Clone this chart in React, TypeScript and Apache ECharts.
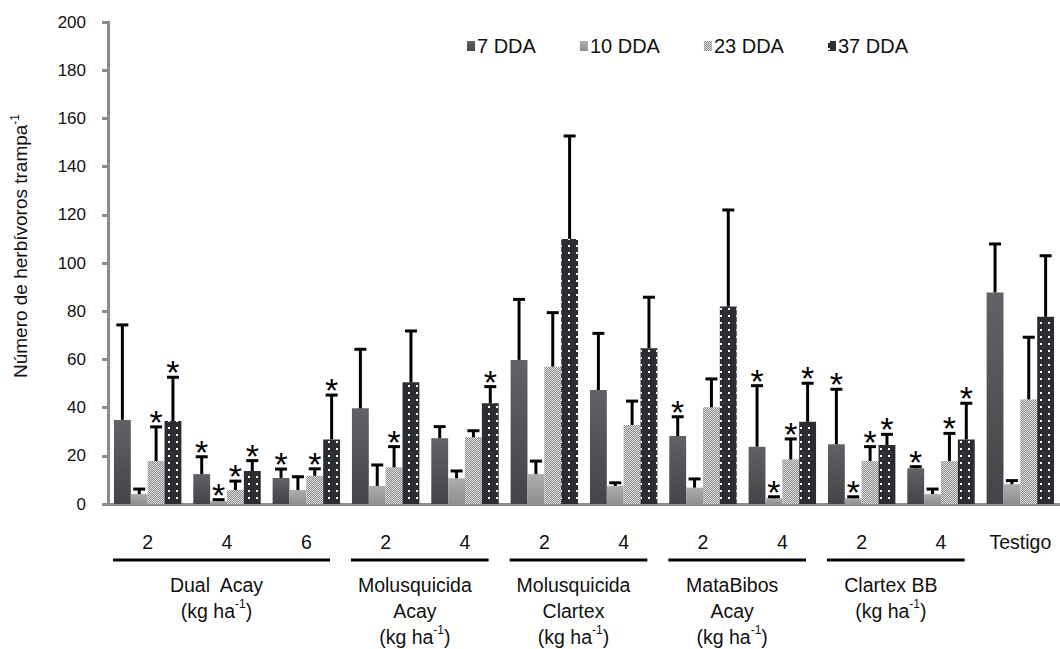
import React, { useEffect, useRef } from "react";
import * as echarts from "echarts";

const categories = [
  "Dual Acay 2", "Dual Acay 4", "Dual Acay 6",
  "Molusquicida Acay 2", "Molusquicida Acay 4",
  "Molusquicida Clartex 2", "Molusquicida Clartex 4",
  "MataBibos Acay 2", "MataBibos Acay 4",
  "Clartex BB 2", "Clartex BB 4", "Testigo",
];
const doseLabels = ["2", "4", "6", "2", "4", "2", "4", "2", "4", "2", "4", "Testigo"];
const seriesNames = ["7 DDA", "10 DDA", "23 DDA", "37 DDA"];

const mean7 = [34.9, 12.4, 10.8, 39.7, 27.3, 59.8, 47.3, 28.2, 23.8, 24.8, 14.8, 87.8];
const err7 = [74.3, 19.6, 14.5, 64.2, 32.1, 84.9, 70.8, 36.2, 49.1, 47.6, 15.5, 107.9];
const star7 = [0, 1, 1, 0, 0, 0, 0, 1, 1, 1, 1, 0];

const mean10 = [4.1, 1.2, 5.8, 7.5, 10.7, 12.4, 7.5, 6.8, 2.4, 2.4, 4.1, 8.2];
const err10 = [6.2, 1.8, 11.3, 16.2, 13.7, 17.8, 8.8, 10.4, 3.0, 3.0, 6.2, 9.7];
const star10 = [0, 1, 0, 0, 0, 0, 0, 0, 1, 1, 0, 0];

const mean23 = [17.8, 5.8, 11.7, 15.2, 27.7, 57.0, 32.8, 40.1, 18.5, 17.8, 17.8, 43.4];
const err23 = [32.0, 9.5, 14.6, 23.8, 30.4, 79.4, 42.7, 51.9, 27.0, 23.8, 29.3, 69.2];
const star23 = [1, 1, 1, 1, 0, 0, 0, 0, 1, 1, 1, 0];

const mean37 = [34.4, 13.7, 26.8, 50.5, 41.8, 110.0, 64.6, 81.9, 34.1, 24.5, 26.8, 77.7];
const err37 = [52.6, 18.0, 45.2, 71.8, 48.7, 152.7, 85.8, 122.0, 50.1, 28.9, 41.8, 103.0];
const star37 = [1, 1, 1, 0, 1, 0, 0, 0, 1, 1, 1, 0];

const yMin = 0;
const yMax = 200;
const yInterval = 20;

const yTitle = "Número de herbívoros trampa{sup|-1}";

const groups = [
  { lines: ["Dual  Acay", "(kg ha{sup|-1})"], from: 0, to: 2 },
  { lines: ["Molusquicida", "Acay", "(kg ha{sup|-1})"], from: 3, to: 4 },
  { lines: ["Molusquicida", "Clartex", "(kg ha{sup|-1})"], from: 5, to: 6 },
  { lines: ["MataBibos", "Acay", "(kg ha{sup|-1})"], from: 7, to: 8 },
  { lines: ["Clartex BB", "(kg ha{sup|-1})"], from: 9, to: 10 },
];

const FONT = "'Liberation Sans', Arial, Helvetica, sans-serif";
const AXIS_GRAY = "#8c8c8c";
const CAT_GAP = 0.15;

const means = [mean7, mean10, mean23, mean37];
const errs = [err7, err10, err23, err37];
const stars = [star7, star10, star23, star37];

const barStyles: any[] = [
  {
    color: new echarts.graphic.LinearGradient(0, 0, 0, 1, [
      { offset: 0, color: "#616265" },
      { offset: 1, color: "#434447" },
    ]),
  },
  {
    color: new echarts.graphic.LinearGradient(0, 0, 0, 1, [
      { offset: 0, color: "#acadaf" },
      { offset: 1, color: "#8e8f91" },
    ]),
  },
  {
    color: "#dcdcdc",
    decal: {
      symbol: "rect",
      symbolSize: 1,
      color: "#8e8e8e",
      dashArrayX: [[1, 1], [0, 1, 1, 0]],
      dashArrayY: [1, 0],
    },
  },
  {
    color: "#2b2d30",
    decal: {
      symbol: "rect",
      symbolSize: 1,
      color: "#ffffff",
      dashArrayX: [2, 6],
      dashArrayY: [2, 5],
    },
  },
];

function buildOption() {
  const barSeries = seriesNames.map((name, k) => ({
    name,
    type: "bar",
    data: means[k],
    barGap: "0%",
    barCategoryGap: CAT_GAP * 100 + "%",
    itemStyle: barStyles[k],
    z: 2,
  }));

  const errSeries = seriesNames.map((name, k) => ({
    name: "err " + name,
    type: "custom",
    z: 4,
    silent: true,
    data: means[k].map((m, i) => [i, m, errs[k][i], stars[k][i]]),
    encode: { x: 0, y: 2 },
    renderItem: (params: any, api: any) => {
      const ci = api.value(0);
      const v = api.value(1);
      const e = api.value(2);
      const s = api.value(3);
      const band = api.size([1, 0])[0];
      const used = band * (1 - CAT_GAP);
      const bw = used / 4;
      const base = api.coord([ci, 0]);
      const x = base[0] - used / 2 + bw * (k + 0.5);
      const yv = api.coord([ci, v])[1];
      const ye = api.coord([ci, e])[1];
      const children: any[] = [
        {
          type: "line",
          shape: { x1: x, y1: yv, x2: x, y2: ye },
          style: { stroke: "#000", lineWidth: 3 },
        },
        {
          type: "line",
          shape: { x1: x - 6, y1: ye, x2: x + 6, y2: ye },
          style: { stroke: "#000", lineWidth: 3 },
        },
      ];
      if (s) {
        children.push({
          type: "text",
          x: x,
          y: ye - 5,
          style: {
            text: "*",
            fill: "#000",
            fontSize: 34,
            fontFamily: FONT,
            align: "center",
            verticalAlign: "middle",
          },
        });
      }
      return { type: "group", children };
    },
  }));

  return {
    animation: false,
    backgroundColor: "#ffffff",
    textStyle: { fontFamily: FONT },
    grid: { left: 108, top: 22, right: -10, bottom: 145, containLabel: false },
    legend: {
      data: seriesNames,
      left: 467,
      top: 36,
      padding: 0,
      itemWidth: 8,
      itemHeight: 10,
      itemGap: 44,
      icon: "rect",
      textStyle: { fontSize: 20, color: "#111", fontFamily: FONT, padding: [0, 0, 0, -3] },
      selectedMode: false,
    },
    xAxis: {
      type: "category",
      data: categories,
      axisLine: { lineStyle: { color: AXIS_GRAY, width: 3 } },
      axisTick: { length: 8, lineStyle: { color: AXIS_GRAY, width: 3 } },
      axisLabel: {
        interval: 0,
        margin: 28,
        fontSize: 19.5,
        color: "#111",
        fontFamily: FONT,
        formatter: (_v: string, i: number) => doseLabels[i],
      },
    },
    yAxis: {
      type: "value",
      min: yMin,
      max: yMax,
      interval: yInterval,
      splitLine: { show: false },
      axisLine: { show: true, lineStyle: { color: AXIS_GRAY, width: 3 } },
      axisTick: { show: true, length: 6, lineStyle: { color: AXIS_GRAY, width: 3 } },
      axisLabel: { fontSize: 17, color: "#111", margin: 22, fontFamily: FONT },
    },
    series: [...barSeries, ...errSeries],
  };
}

function buildGraphic(chart: any) {
  const px = (i: number) => chart.convertToPixel({ xAxisIndex: 0 }, i) as number;
  const band = px(1) - px(0);
  const zeroY = chart.convertToPixel({ yAxisIndex: 0 }, 0) as number;
  const lineY = zeroY + 56;
  const rich = { sup: { fontSize: 12, verticalAlign: "top", lineHeight: 12, fontFamily: FONT, fill: "#111" } };
  const els: any[] = [];
  groups.forEach((g) => {
    const left = px(g.from) - band / 2;
    const right = px(g.to) + band / 2;
    const x1 = left + 5;
    const x2 = right - 16;
    els.push({
      type: "line",
      shape: { x1, y1: lineY, x2, y2: lineY },
      style: { stroke: "#000", lineWidth: 3 },
    });
    els.push({
      type: "text",
      x: (x1 + x2) / 2 - 5,
      y: lineY + 12,
      style: {
        text: g.lines.join("\n"),
        fontSize: 19.5,
        lineHeight: 26,
        fontFamily: FONT,
        fill: "#111",
        align: "center",
        verticalAlign: "top",
        rich,
      },
    });
  });
  els.push({
    type: "text",
    x: 20,
    y: 246,
    rotation: Math.PI / 2,
    style: {
      text: yTitle,
      fontSize: 19,
      lineHeight: 22,
      fontFamily: FONT,
      fill: "#111",
      align: "center",
      verticalAlign: "middle",
      rich,
    },
  });
  return els;
}

export default function App() {
  const ref = useRef<HTMLDivElement>(null);
  useEffect(() => {
    if (!ref.current) return;
    const chart = echarts.init(ref.current, null, { renderer: "svg" });
    chart.setOption(buildOption() as any);
    chart.setOption({ graphic: buildGraphic(chart) } as any);
    return () => chart.dispose();
  }, []);
  return (
    <div
      ref={ref}
      style={{ position: "absolute", left: 0, top: 0, width: 1060, height: 649, background: "#fff" }}
    />
  );
}
